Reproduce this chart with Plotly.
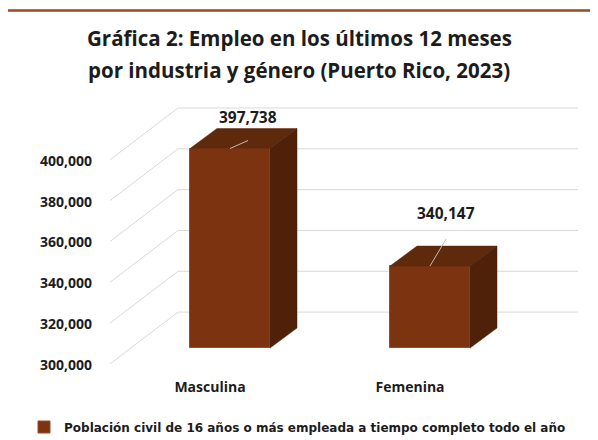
import plotly.graph_objects as go

# ---------------- data ----------------
categories = ["Masculina", "Femenina"]
values = [397738, 340147]
value_labels = ["397,738", "340,147"]
tick_values = [300000, 320000, 340000, 360000, 380000, 400000]
tick_labels = ["300,000", "320,000", "340,000", "360,000", "380,000", "400,000"]
series_name = "Población civil de 16 años o más empleada a tiempo completo todo el año"
title_lines = ["Gráfica 2: Empleo en los últimos 12 meses",
               "por industria y género (Puerto Rico, 2023)"]
base_value = 300000

# ---------------- geometry / style ----------------
PAGE_OFF = 8                            # browser body margin
W_REF, H_REF = 598, 440
W, H = W_REF - PAGE_OFF, H_REF - PAGE_OFF
L, R, T, B = 100, 590, 95, 372          # plot area in reference pixels
PX_X = 200.0                            # pixels per category unit
X0_PX = 230.0                           # pixel of first category center
BASE_PX = 348.0                         # pixel of base value (front face)
UNITS_PER_PX = 490.0                    # value units per pixel

x_range = [(L - X0_PX) / PX_X, (R - X0_PX) / PX_X]
y_range = [base_value - (B - BASE_PX) * UNITS_PER_PX, base_value + (BASE_PX - T) * UNITS_PER_PX]

bar_w = 80 / PX_X
depth_dx = 27 / PX_X
depth_dy = 20 * UNITS_PER_PX

FRONT = "#7C3410"
TOP = "#5F290C"
SIDE = "#4F2109"
EDGE = "#9A4A26"
GRID = "#D9D9D9"
TEXT = "#1C1C1C"
FONT = "Open Sans"
FONT2 = "DejaVu Sans"

# gridline perspective (floor/wall)
grid_front_x = (110 - X0_PX) / PX_X
grid_back_x = (178 - X0_PX) / PX_X
grid_end_x = (578 - X0_PX) / PX_X
grid_front_off = -7800
grid_back_off = 17600

fig = go.Figure()

# gridlines (shapes below traces)
for t in tick_values:
    fig.add_shape(type="path", xref="x", yref="y", layer="below",
                  path=f"M {grid_front_x},{t + grid_front_off} "
                       f"L {grid_back_x},{t + grid_back_off} "
                       f"L {grid_end_x},{t + grid_back_off}",
                  line=dict(color=GRID, width=1))

# bars front faces
xs = list(range(len(categories)))
fig.add_trace(go.Bar(
    x=xs, y=[v - base_value for v in values], base=base_value,
    width=bar_w, marker=dict(color=FRONT, line=dict(color=EDGE, width=1)),
    name=series_name, showlegend=True, hoverinfo="skip"))

# top and side faces
for i, v in zip(xs, values):
    xl, xr = i - bar_w / 2, i + bar_w / 2
    fig.add_trace(go.Scatter(
        x=[xl, xr, xr + depth_dx, xl + depth_dx, xl],
        y=[v, v, v + depth_dy, v + depth_dy, v],
        fill="toself", fillcolor=TOP, mode="lines",
        line=dict(color=TOP, width=0.5), showlegend=False, hoverinfo="skip"))
    fig.add_trace(go.Scatter(
        x=[xr, xr, xr + depth_dx, xr + depth_dx, xr],
        y=[base_value, v, v + depth_dy, base_value + depth_dy, base_value],
        fill="toself", fillcolor=SIDE, mode="lines",
        line=dict(color=SIDE, width=0.5), showlegend=False, hoverinfo="skip"))

# leader lines and data labels
leader_end_px = [(18, 8), (16, 27)]
label_off_px = [(18, 32), (16, 53)]
for i, v, lab, le, lo in zip(xs, values, value_labels, leader_end_px, label_off_px):
    fig.add_trace(go.Scatter(
        x=[i, i + le[0] / PX_X], y=[v, v + le[1] * UNITS_PER_PX],
        mode="lines", line=dict(color="#C9B8AE", width=1),
        showlegend=False, hoverinfo="skip"))
    fig.add_annotation(x=i + lo[0] / PX_X, y=v + lo[1] * UNITS_PER_PX,
                       text=lab, showarrow=False, xanchor="center", yanchor="middle",
                       font=dict(family=FONT, size=15.5, color=TEXT, weight="bold"))

# title
for k, line in enumerate(title_lines):
    ypx = 38 + 32 * k
    fig.add_annotation(xref="paper", yref="paper",
                       x=(299 - L) / (R - L), y=(B - ypx) / (B - T),
                       text=line, showarrow=False, xanchor="center", yanchor="middle",
                       font=dict(family=FONT, size=20.5, color=TEXT, weight="bold"))

# frame
fig.add_shape(type="rect", xref="paper", yref="paper",
              x0=(5.5 - L) / (R - L), x1=1.2, y0=-0.6, y1=(B - 10.5) / (B - T),
              line=dict(color="#9C4A23", width=2.5), layer="below")

fig.update_layout(
    width=W, height=H,
    margin=dict(l=L - PAGE_OFF, r=W_REF - R, t=T - PAGE_OFF, b=H_REF - B,
                pad=0, autoexpand=False),
    paper_bgcolor="white", plot_bgcolor="white",
    bargap=0,
    xaxis=dict(range=x_range, showgrid=False, zeroline=False, showline=False,
               tickvals=xs, ticktext=categories, ticks="",
               ticklabelshift=-20, ticklabelstandoff=5,
               tickfont=dict(family=FONT, size=14, color=TEXT, weight="bold")),
    yaxis=dict(range=y_range, showgrid=False, zeroline=False, showline=False,
               tickvals=tick_values, ticktext=tick_labels, ticks="",
               ticklabelshift=17, ticklabelstandoff=7,
               tickfont=dict(family=FONT, size=14, color=TEXT, weight="bold")),
    legend=dict(orientation="h", xref="paper", yref="paper",
                x=(24 - L) / (R - L), y=(B - 427) / (B - T),
                xanchor="left", yanchor="middle",
                font=dict(family=FONT2, size=12, color=TEXT, weight="bold"),
                itemwidth=30, bgcolor="rgba(0,0,0,0)"),
    showlegend=True,
)

fig.write_html("out.html")
